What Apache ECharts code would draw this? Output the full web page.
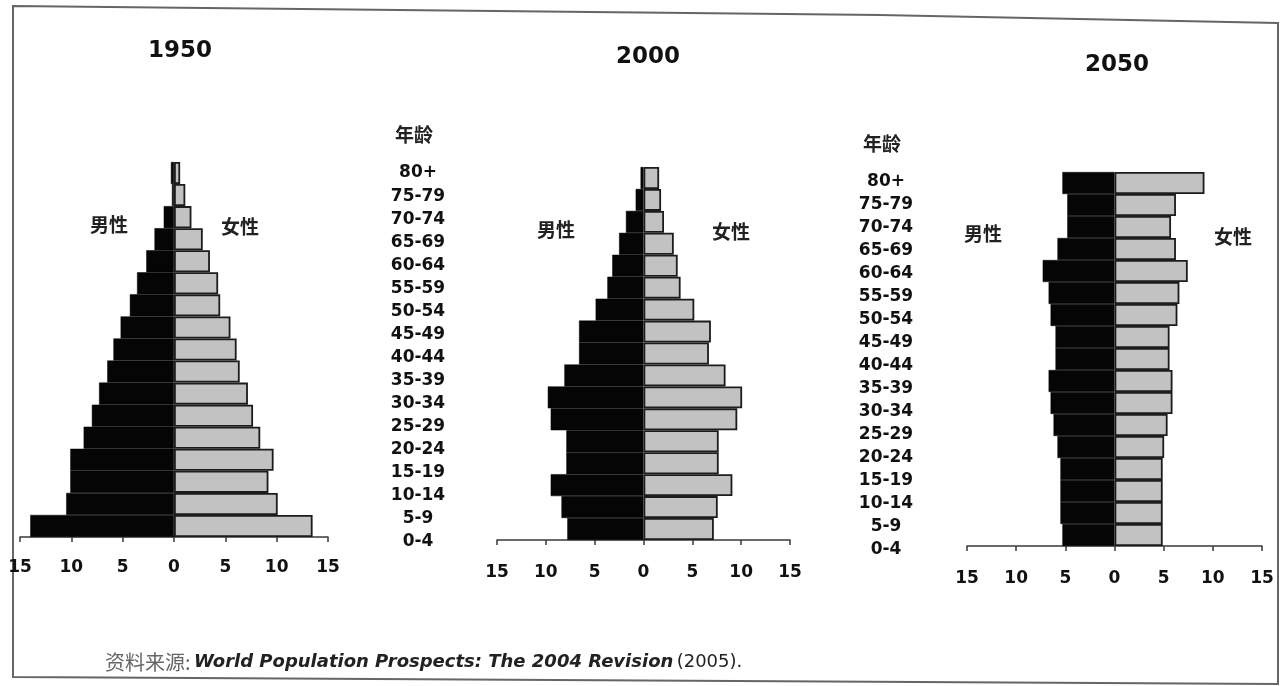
<!DOCTYPE html>
<html><head><meta charset="utf-8">
<script src="https://cdn.jsdelivr.net/npm/echarts@6/dist/echarts.min.js"></script>
<style>html,body{margin:0;padding:0;background:#fff}#c{width:1288px;height:686px}</style>
</head><body><div id="c"></div>
<script>
// Age groups, bottom (youngest) to top (oldest)
const ages = ['0-4','5-9','10-14','15-19','20-24','25-29','30-34','35-39','40-44','45-49','50-54','55-59','60-64','65-69','70-74','75-79','80+'];
const years = ['1950','2000','2050'];
// Percent of population, bottom to top
const male1950   = [14.0,10.5,10.1,10.1,8.8,8.0,7.3,6.5,5.9,5.2,4.3,3.6,2.7,1.9,1.0,0.2,0.3];
const female1950 = [13.5,10.1,9.2,9.7,8.4,7.7,7.2,6.4,6.1,5.5,4.5,4.3,3.5,2.8,1.7,1.1,0.6];
const male2000   = [7.8,8.4,9.5,7.9,7.9,9.5,9.8,8.1,6.6,6.6,4.9,3.7,3.2,2.5,1.8,0.8,0.3];
const female2000 = [7.2,7.6,9.1,7.7,7.7,9.6,10.1,8.4,6.7,6.9,5.2,3.8,3.5,3.1,2.1,1.8,1.6];
const male2050   = [5.3,5.5,5.5,5.5,5.8,6.2,6.5,6.7,6.0,6.0,6.5,6.7,7.3,5.8,4.8,4.8,5.3];
const female2050 = [4.9,4.9,4.9,4.9,5.05,5.4,5.9,5.9,5.6,5.6,6.4,6.6,7.45,6.25,5.75,6.25,9.15];
const maleText = '男性', femaleText = '女性', ageTitle = '年龄';
const srcCn = '资料来源:', srcEn = 'World Population Prospects: The 2004 Revision', srcYear = '(2005).';

const panels = [
  {year: years[0], male: male1950, female: female1950, left: 20,  width: 308, top: 162, height: 375, margin: 22,
   title: [180, 51], mT: [109, 225], fT: [240, 227]},
  {year: years[1], male: male2000, female: female2000, left: 497, width: 293, top: 167, height: 373, margin: 24,
   title: [648, 57], mT: [556, 230], fT: [731, 232]},
  {year: years[2], male: male2050, female: female2050, left: 967, width: 295, top: 172, height: 374, margin: 24,
   title: [1117, 65], mT: [983, 234], fT: [1233, 237]}
];
const ageCols = [
  {x: 418, top: 161.5, height: 392, head: [414, 135]},
  {x: 886, top: 170.5, height: 391, head: [882, 144]}
];

const grid = [], xAxis = [], yAxis = [], series = [], graphic = [];
const cjk = '"Noto Sans CJK SC", sans-serif';
panels.forEach((p, i) => {
  grid.push({left: p.left, width: p.width, top: p.top, height: p.height});
  xAxis.push({
    type: 'value', gridIndex: i, min: -15, max: 15, interval: 5,
    axisLine: {show: true, lineStyle: {color: '#3a3a3a', width: 1.5}},
    axisTick: {show: true, length: 5, lineStyle: {color: '#3a3a3a', width: 1.5}},
    splitLine: {show: false},
    axisLabel: {formatter: v => Math.abs(v), margin: p.margin, fontSize: 17, fontWeight: 'bold',
      fontFamily: 'DejaVu Sans', color: '#111'}
  });
  yAxis.push({type: 'category', gridIndex: i, data: ages, show: false});
  series.push({
    type: 'bar', name: maleText, xAxisIndex: i, yAxisIndex: i,
    data: p.male.map(v => -v), barCategoryGap: '0%', barGap: '-100%',
    itemStyle: {color: '#050505', borderColor: '#050505', borderWidth: 0.5}, silent: true
  });
  series.push({
    type: 'bar', name: femaleText, xAxisIndex: i, yAxisIndex: i,
    data: p.female, barCategoryGap: '0%', barGap: '-100%',
    itemStyle: {color: '#c2c2c2', borderColor: '#1c1c1c', borderWidth: 1.8}, silent: true
  });
  graphic.push({type: 'text', x: p.title[0], y: p.title[1], style: {text: p.year,
    font: 'bold 23px "DejaVu Sans"', fill: '#111', align: 'center', verticalAlign: 'middle'}});
  graphic.push({type: 'text', x: p.mT[0], y: p.mT[1], style: {text: maleText,
    font: 'bold 19px ' + cjk, fill: '#222', align: 'center', verticalAlign: 'middle'}});
  graphic.push({type: 'text', x: p.fT[0], y: p.fT[1], style: {text: femaleText,
    font: 'bold 19px ' + cjk, fill: '#222', align: 'center', verticalAlign: 'middle'}});
});
ageCols.forEach((c, k) => {
  const gi = 3 + k;
  grid.push({left: c.x, width: 1, top: c.top, height: c.height});
  xAxis.push({type: 'value', gridIndex: gi, min: 0, max: 1, show: false});
  yAxis.push({type: 'category', gridIndex: gi, data: ages,
    axisLine: {show: false}, axisTick: {show: false}, splitLine: {show: false},
    axisLabel: {align: 'center', margin: 0, fontSize: 17, fontWeight: 'bold', fontFamily: 'DejaVu Sans', color: '#111'}});
  graphic.push({type: 'text', x: c.head[0], y: c.head[1], style: {text: ageTitle,
    font: 'bold 19px ' + cjk, fill: '#222', align: 'center', verticalAlign: 'middle'}});
});
// frame
graphic.push({type: 'polygon', shape: {points: [[13,6],[880,15],[1278,23],[1278,684],[13,677]]},
  style: {fill: 'none', stroke: '#666', lineWidth: 2}, silent: true});
// source
graphic.push({type: 'text', x: 105, y: 662, style: {
  text: '{a|' + srcCn + '} {b|' + srcEn + '} {c|' + srcYear + '}',
  verticalAlign: 'middle', align: 'left',
  rich: {
    a: {font: '20px ' + cjk, fill: '#666'},
    b: {font: 'italic bold 18px "DejaVu Sans"', fill: '#222'},
    c: {font: '18px "DejaVu Sans"', fill: '#222'}
  }}});

const chart = echarts.init(document.getElementById('c'));
chart.setOption({animation: false, backgroundColor: '#fff', grid, xAxis, yAxis, series, graphic});
</script></body></html>
